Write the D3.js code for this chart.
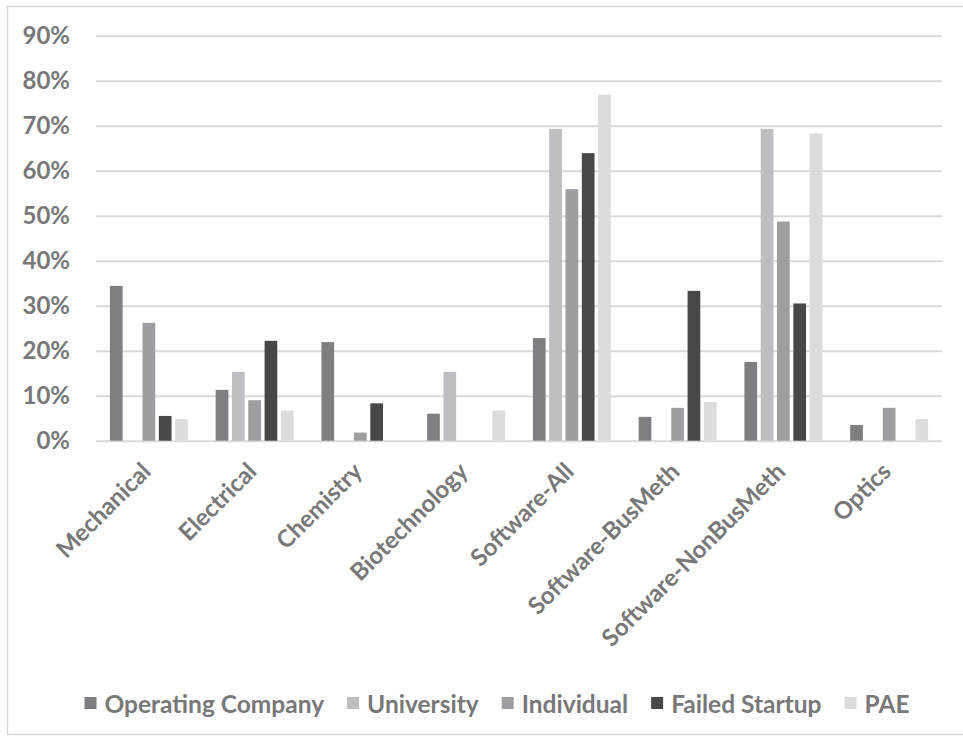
<!DOCTYPE html>
<html>
<head>
<meta charset="utf-8">
<script src="https://cdn.jsdelivr.net/npm/d3@7/dist/d3.min.js"></script>
<style>
  html, body { margin: 0; padding: 0; background: #fff; }
  svg { display: block; }
  text { font-family: Lato, "Open Sans", sans-serif; font-weight: bold; fill: #787878; }
</style>
</head>
<body>
<svg id="chart" width="963" height="738"></svg>
<script>
// Share of patents per technology field, by type of patent owner
const categories = ["Mechanical", "Electrical", "Chemistry", "Biotechnology",
  "Software-All", "Software-BusMeth", "Software-NonBusMeth", "Optics"];
const seriesNames = ["Operating Company", "University", "Individual", "Failed Startup", "PAE"];
const operatingCompany = [0.344, 0.113, 0.219, 0.060, 0.228, 0.053, 0.175, 0.035];
const university       = [0.000, 0.153, 0.000, 0.153, 0.693, 0.000, 0.693, 0.000];
const individual       = [0.262, 0.090, 0.018, 0.000, 0.559, 0.073, 0.487, 0.073];
const failedStartup    = [0.055, 0.222, 0.083, 0.000, 0.639, 0.333, 0.305, 0.000];
const pae              = [0.048, 0.067, 0.000, 0.067, 0.769, 0.086, 0.683, 0.048];
const yTicks = [0, 0.1, 0.2, 0.3, 0.4, 0.5, 0.6, 0.7, 0.8, 0.9];
const colors = ["#7e7f83", "#bdbec2", "#9d9ea2", "#47484a", "#dbdcde"];

const seriesValues = [operatingCompany, university, individual, failedStartup, pae];
const fontSize = 24;
const textColor = "#787878";

const svg = d3.select("#chart");

// outer chart frame
svg.append("rect")
  .attr("x", 7.5).attr("y", 6.5)
  .attr("width", 962).attr("height", 728)
  .attr("fill", "none").attr("stroke", "#d9d9d9").attr("stroke-width", 1.5);

const plot = { left: 96, right: 942, top: 35.7, bottom: 440.7 };

const y = d3.scaleLinear().domain([0, 0.9]).range([plot.bottom, plot.top]);
const x0 = d3.scaleBand().domain(categories).range([plot.left, plot.right]).padding(0);
const groupW = x0.bandwidth() * 0.771;
const x1 = d3.scaleBand().domain(seriesNames)
  .range([(x0.bandwidth() - groupW) / 2, (x0.bandwidth() + groupW) / 2]).padding(0);

// horizontal gridlines and y tick labels
const yAxis = d3.axisLeft(y).tickValues(yTicks).tickFormat(d3.format(".0%"))
  .tickSize(-(plot.right - plot.left)).tickPadding(26);
const gy = svg.append("g").attr("transform", `translate(${plot.left},0)`).call(yAxis);
gy.select(".domain").remove();
gy.selectAll(".tick line").attr("stroke", "#d9d9d9").attr("stroke-width", 2);
gy.selectAll(".tick text").attr("font-size", fontSize).attr("fill", textColor)
  .attr("font-family", "Lato, sans-serif").attr("font-weight", "bold");

// bars
const gap = 3.6;
seriesNames.forEach((name, si) => {
  svg.append("g").selectAll("rect")
    .data(categories.map((c, i) => ({ c, v: seriesValues[si][i] })).filter(d => d.v > 0))
    .join("rect")
    .attr("x", d => x0(d.c) + x1(name) + gap / 2)
    .attr("width", x1.bandwidth() - gap)
    .attr("y", d => y(d.v))
    .attr("height", d => y(0) - y(d.v))
    .attr("fill", colors[si]);
});

// category labels, rotated
const xAxis = d3.axisBottom(x0).tickSize(0).tickPadding(0);
const gx = svg.append("g").attr("transform", `translate(0,${plot.bottom})`).call(xAxis);
gx.select(".domain").remove();
gx.selectAll(".tick text")
  .attr("font-size", fontSize)
  .attr("fill", textColor)
  .attr("font-family", "Lato, sans-serif").attr("font-weight", "bold")
  .attr("text-anchor", "end")
  .attr("dy", null).attr("y", null)
  .attr("transform", "translate(-1,28) rotate(-45)")
  .attr("dominant-baseline", "middle");

// legend
const legend = svg.append("g");
let lx = 0;
seriesNames.forEach((name, i) => {
  const g = legend.append("g").attr("transform", `translate(${lx},0)`);
  g.append("rect").attr("x", 0).attr("y", -6).attr("width", 12).attr("height", 12).attr("fill", colors[i]);
  const t = g.append("text").attr("x", 20).attr("y", 0).attr("dominant-baseline", "central")
    .attr("font-size", 24.5).text(name);
  lx += 20 + t.node().getComputedTextLength() + 23;
});
const legendW = lx - 23;
legend.attr("transform", `translate(${497 - legendW / 2},703)`);
</script>
</body>
</html>
